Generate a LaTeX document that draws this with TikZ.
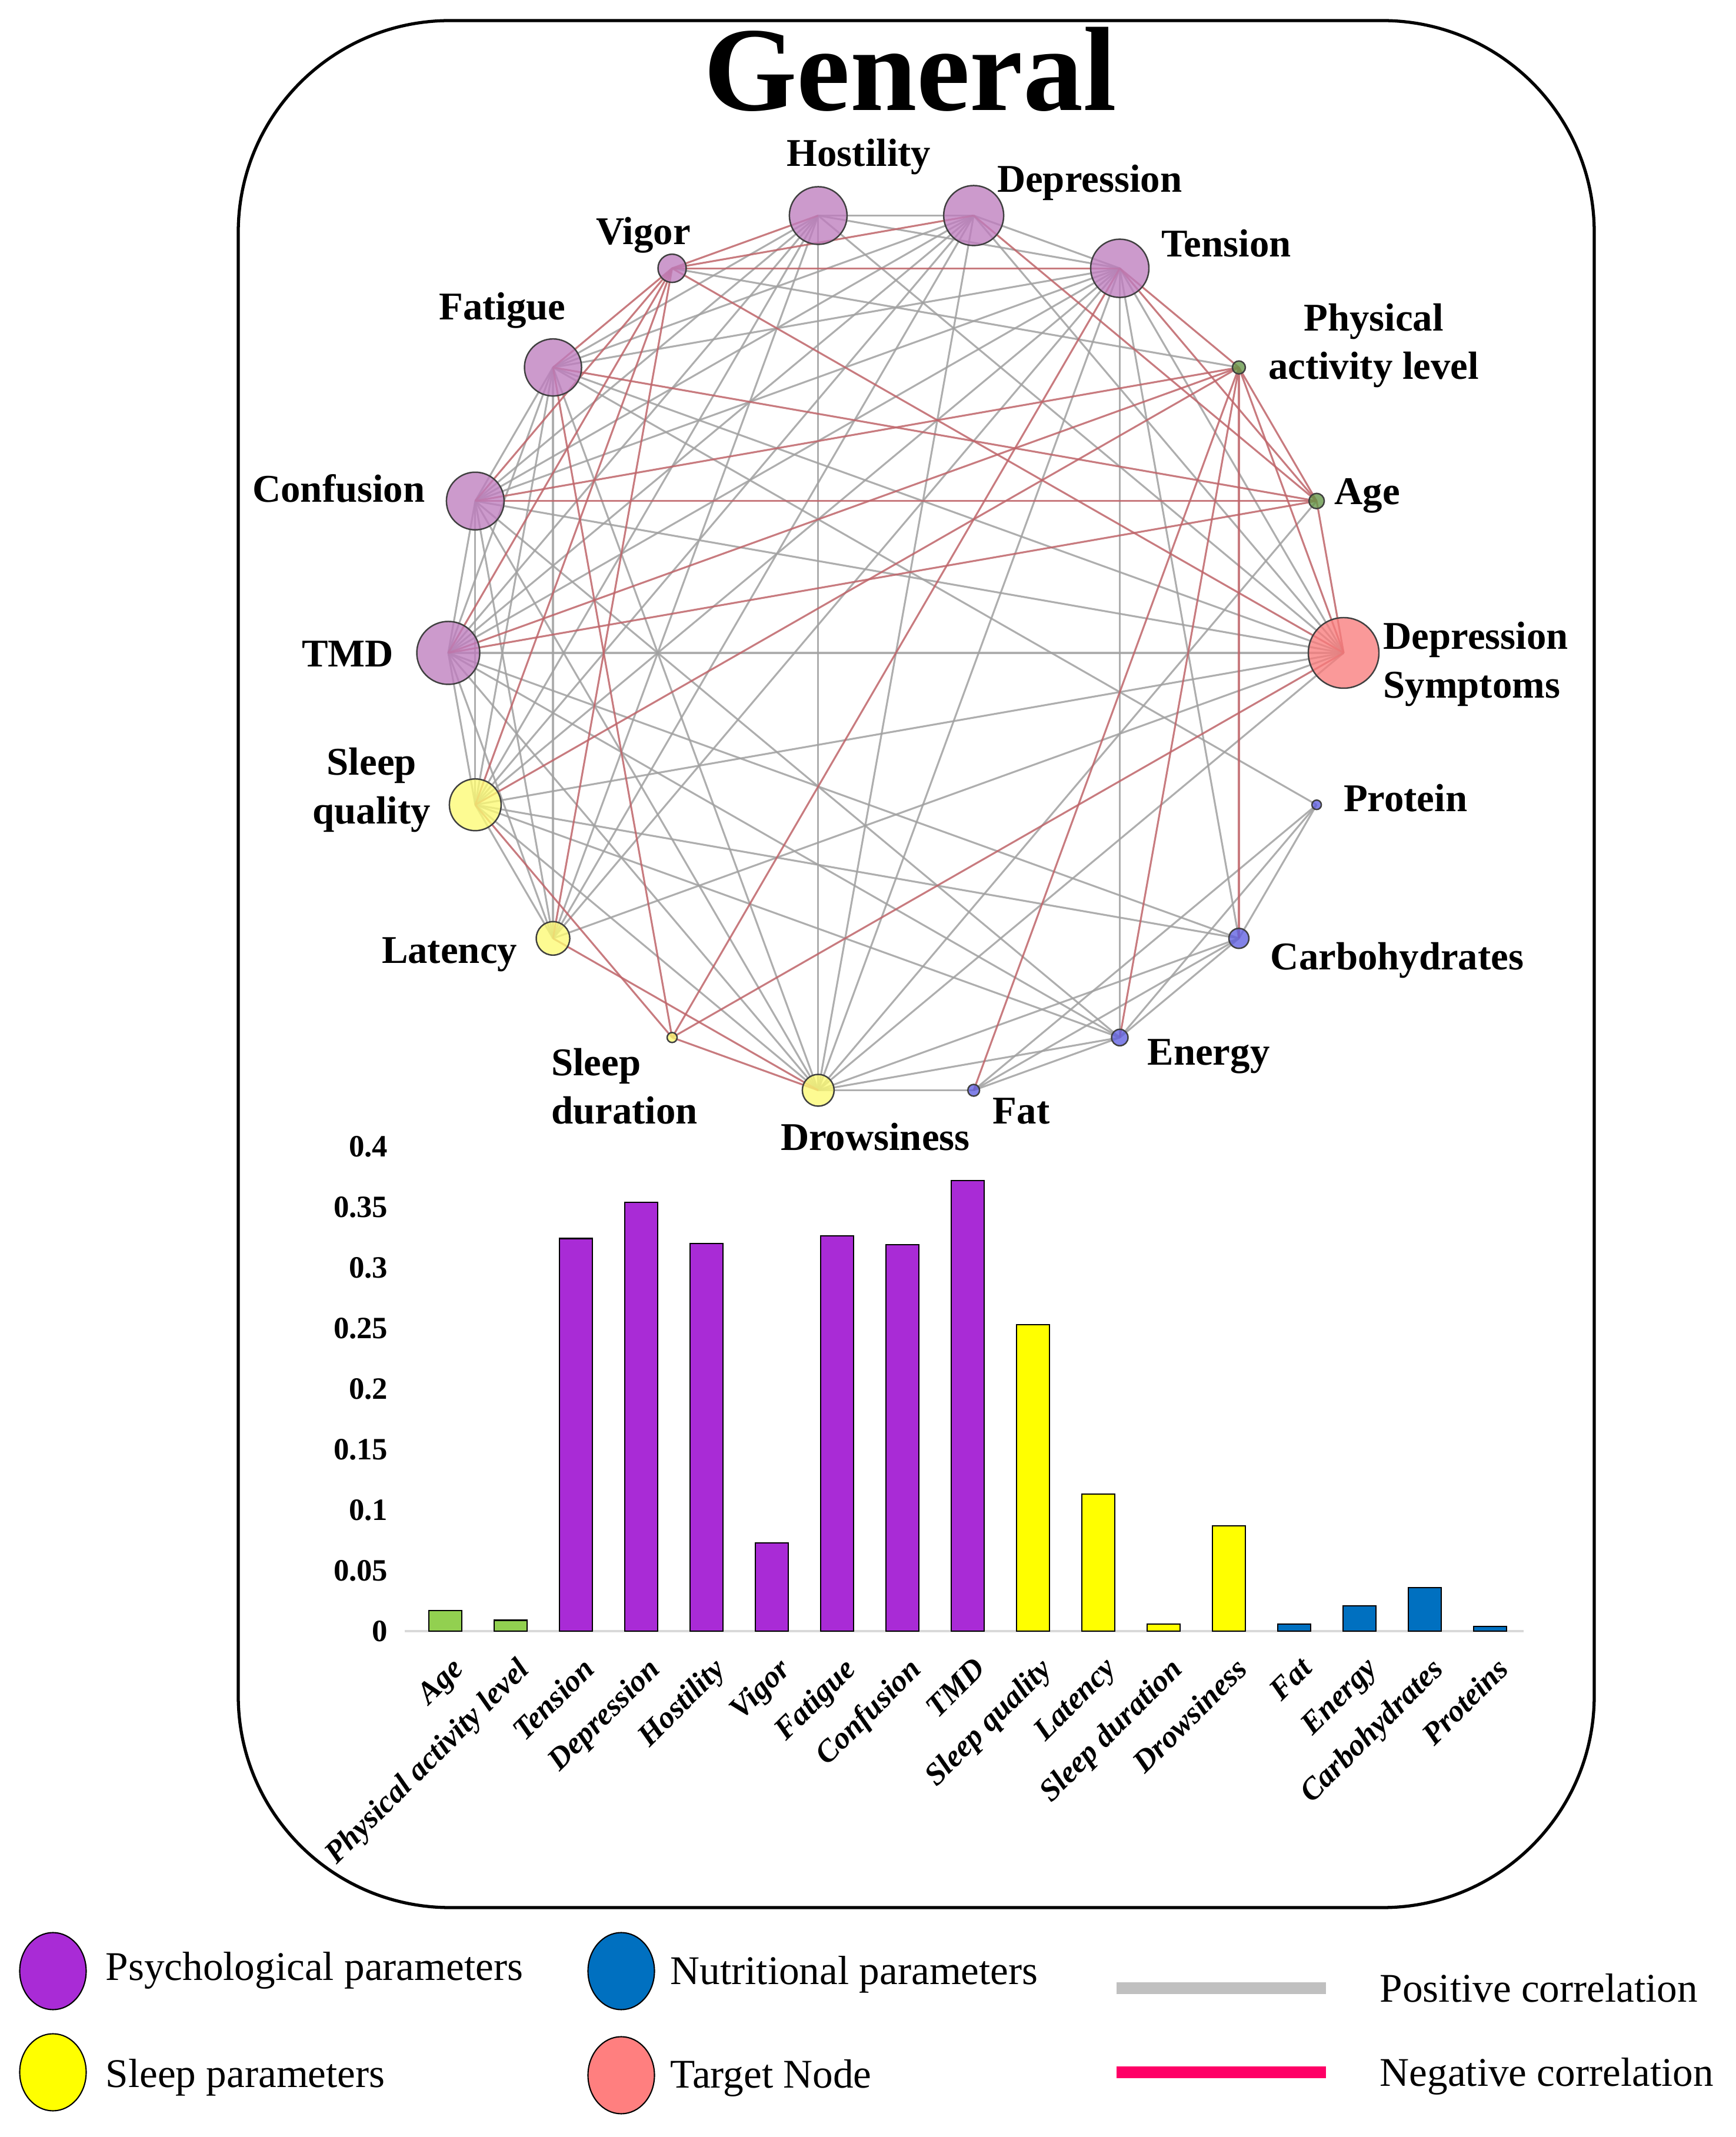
\documentclass[tikz,border=0pt]{standalone}
\usepackage{fontspec}
\setmainfont{Liberation Serif}
\usetikzlibrary{backgrounds,shapes.geometric}

\definecolor{psyfill}{RGB}{190,125,190}
\definecolor{slpfill}{RGB}{252,250,115}
\definecolor{nutfill}{RGB}{95,95,225}
\definecolor{ctlfill}{RGB}{100,150,70}
\definecolor{tgtfill}{RGB}{248,124,124}
\definecolor{posedge}{RGB}{160,160,160}
\definecolor{negedge}{RGB}{190,100,105}
\definecolor{barpsy}{RGB}{169,43,214}
\definecolor{barslp}{RGB}{255,255,0}
\definecolor{barnut}{RGB}{0,112,192}
\definecolor{barctl}{RGB}{146,208,80}
\definecolor{legpos}{RGB}{192,192,192}
\definecolor{legneg}{RGB}{255,0,102}
\definecolor{legtgt}{RGB}{255,127,127}

\tikzset{
  vnode/.style={circle, draw=black!75, line width=0.7pt, inner sep=0pt, fill opacity=0.78},
  psy/.style={vnode, fill=psyfill},
  slp/.style={vnode, fill=slpfill},
  nut/.style={vnode, fill=nutfill},
  ctl/.style={vnode, fill=ctlfill},
  tgt/.style={vnode, fill=tgtfill},
  lbl/.style={font=\fontsize{19}{23.5}\selectfont\bfseries, inner sep=0pt},
  posline/.style={draw=posedge, line width=0.9pt, draw opacity=0.85},
  negline/.style={draw=negedge, line width=0.9pt, draw opacity=0.85},
  bar/.style={draw=black, line width=0.6pt},
  ticklbl/.style={font=\fontsize{15}{17}\selectfont\bfseries, anchor=east, inner sep=0pt},
  barlbl/.style={font=\fontsize{15}{17}\selectfont\bfseries\itshape, anchor=north east, rotate=45, inner sep=0pt},
  legdot/.style={ellipse, draw=black, line width=0.6pt, minimum width=1.13cm, minimum height=1.31cm, inner sep=0pt},
  legtxt/.style={font=\fontsize{19.7}{22}\selectfont, anchor=west, inner sep=0pt},
}

\begin{document}
\begin{tikzpicture}
  \useasboundingbox (0,0) rectangle (29.51,36.33);

  % frame and title
  \draw[line width=1.5pt, rounded corners=3.6cm] (4.05,3.90) rectangle (27.10,35.98);
  \node[font=\fontsize{58}{60}\selectfont\bfseries, inner sep=0pt] (title) at (15.47,35.15) {General};

  % network nodes on the circle
  \foreach \n/\a/\d/\s in {ds/0/1.20/tgt, age/20/0.26/ctl, pal/40/0.22/ctl, ten/60/0.99/psy,
      dep/80/1.02/psy, hos/100/0.98/psy, vig/120/0.48/psy, fag/140/0.97/psy, con/160/0.98/psy,
      tmd/180/1.07/psy, sq/200/0.88/slp, lat/220/0.57/slp, sd/240/0.17/slp, drw/260/0.54/slp,
      fat/280/0.20/nut, ene/300/0.28/nut, cho/320/0.34/nut, pro/340/0.16/nut}
    \node[\s, minimum size=\d cm] (\n) at ({15.23+7.61*cos(\a)}, {25.23+7.55*sin(\a)}) {};

  \node[lbl, xshift=0.69cm, yshift=1.00cm] (hos-l) at (hos) {Hostility};
  \node[lbl, xshift=1.97cm, yshift=0.56cm] (dep-l) at (dep) {Depression};
  \node[lbl, xshift=1.81cm, yshift=0.42cm] (ten-l) at (ten) {Tension};
  \node[lbl, xshift=-0.49cm, yshift=0.56cm] (vig-l) at (vig) {Vigor};
  \node[lbl, xshift=-0.86cm, yshift=0.97cm] (fag-l) at (fag) {Fatigue};
  \node[lbl, xshift=-2.32cm, yshift=0.21cm] (con-l) at (con) {Confusion};
  \node[lbl, xshift=-1.71cm, yshift=-0.02cm] (tmd-l) at (tmd) {TMD};
  \node[lbl, align=center, xshift=-1.76cm, yshift=0.25cm] (sq-l) at (sq) {Sleep\\quality};
  \node[lbl, xshift=-1.76cm, yshift=-0.28cm] (lat-l) at (lat) {Latency};
  \node[lbl, align=left, anchor=west, xshift=-2.06cm, yshift=-0.83cm] (sd-l) at (sd) {Sleep\\duration};
  \node[lbl, xshift=0.97cm, yshift=-0.79cm] (drw-l) at (drw) {Drowsiness};
  \node[lbl, xshift=0.81cm, yshift=-0.35cm] (fat-l) at (fat) {Fat};
  \node[lbl, xshift=1.51cm, yshift=-0.32cm] (ene-l) at (ene) {Energy};
  \node[lbl, xshift=2.69cm, yshift=-0.37cm] (cho-l) at (cho) {Carbohydrates};
  \node[lbl, xshift=1.51cm, yshift=0.12cm] (pro-l) at (pro) {Protein};
  \node[lbl, align=left, anchor=west, xshift=0.67cm, yshift=-0.19cm] (ds-l) at (ds) {Depression\\Symptoms};
  \node[lbl, xshift=0.86cm, yshift=0.09cm] (age-l) at (age) {Age};
  \node[lbl, align=center, xshift=2.29cm, yshift=0.37cm] (pal-l) at (pal) {Physical\\activity level};

  % correlations
  \begin{scope}[on background layer]
    \foreach \a/\b in {ten/dep, ten/hos, ten/fag, ten/con, ten/tmd, dep/hos, dep/fag, dep/con,
        dep/tmd, hos/fag, hos/con, hos/tmd, fag/con, fag/tmd, con/tmd,
        ds/ten, ds/dep, ds/hos, ds/fag, ds/con, ds/tmd, ds/sq, ds/lat, ds/drw,
        sq/ten, sq/dep, sq/hos, sq/fag, sq/con, sq/tmd, lat/ten, lat/dep, lat/hos, lat/fag,
        lat/con, lat/tmd, drw/ten, drw/dep, drw/hos, drw/fag, drw/con, drw/tmd, sq/lat, sq/drw,
        fat/ene, fat/cho, fat/pro, ene/cho, ene/pro, cho/pro, fat/drw, ene/drw, cho/drw,
        ene/ten, cho/ten, ene/tmd, ene/con, cho/tmd, cho/sq, ene/sq, pro/fag, age/drw, vig/pal}
      \draw[posline] (\a.center) -- (\b.center);
    \foreach \a/\b in {vig/hos, vig/dep, vig/ten, vig/fag, vig/con, vig/tmd, vig/sq, vig/lat, vig/ds,
        age/ten, age/dep, age/fag, age/con, age/tmd, age/ds,
        pal/ten, pal/con, pal/tmd, pal/sq, pal/fat, pal/ene, pal/cho, pal/ds, pal/age,
        sd/ds, sd/sq, sd/fag, sd/ten, sd/drw, lat/drw}
      \draw[negline] (\a.center) -- (\b.center);
  \end{scope}

  % bar chart
  \draw[draw=black!15, line width=1pt] (6.88,8.60) -- (25.90,8.60);
  \foreach \v/\t [count=\i] in {0/0, 0.05/0.05, 0.1/0.1, 0.15/0.15, 0.2/0.2, 0.25/0.25,
      0.3/0.3, 0.35/0.35, 0.4/0.4}
    \node[ticklbl] (yt-\i) at (6.60,{8.60+20.6*\v}) {\t};
  \foreach \v/\c/\n [count=\i from 0] in {0.017/barctl/Age, 0.009/barctl/Physical activity level,
      0.324/barpsy/Tension, 0.354/barpsy/Depression, 0.320/barpsy/Hostility, 0.073/barpsy/Vigor,
      0.326/barpsy/Fatigue, 0.319/barpsy/Confusion, 0.372/barpsy/TMD, 0.253/barslp/Sleep quality,
      0.113/barslp/Latency, 0.006/barslp/Sleep duration, 0.087/barslp/Drowsiness,
      0.006/barnut/Fat, 0.021/barnut/Energy, 0.036/barnut/Carbohydrates, 0.004/barnut/Proteins} {
    \draw[bar, fill=\c] ({7.29+1.11*\i},8.60) rectangle ({7.85+1.11*\i},{8.60+20.6*\v});
    \node[barlbl] (bl-\i) at ({7.65+1.11*\i},8.19) {\n};
  }

  % legend
  \node[legdot, fill=barpsy] (lg-psy) at (0.90,2.82) {};
  \node[legtxt] (lt-psy) at (1.79,2.83) {Psychological parameters};
  \node[legdot, fill=barslp] (lg-slp) at (0.90,1.10) {};
  \node[legtxt] (lt-slp) at (1.79,1.01) {Sleep parameters};
  \node[legdot, fill=barnut] (lg-nut) at (10.56,2.82) {};
  \node[legtxt] (lt-nut) at (11.39,2.76) {Nutritional parameters};
  \node[legdot, fill=legtgt] (lg-tgt) at (10.56,1.05) {};
  \node[legtxt] (lt-tgt) at (11.39,1.00) {Target Node};
  \coordinate (lp-a) at (18.98,2.53);
  \coordinate (lp-b) at (22.54,2.53);
  \coordinate (ln-a) at (18.98,1.10);
  \coordinate (ln-b) at (22.54,1.10);
  \draw[legpos, line width=0.2cm] (lp-a) -- (lp-b);
  \draw[legneg, line width=0.2cm] (ln-a) -- (ln-b);
  \node[legtxt] (lt-pos) at (23.45,2.53) {Positive correlation};
  \node[legtxt] (lt-neg) at (23.45,1.03) {Negative correlation};
\end{tikzpicture}
\end{document}
